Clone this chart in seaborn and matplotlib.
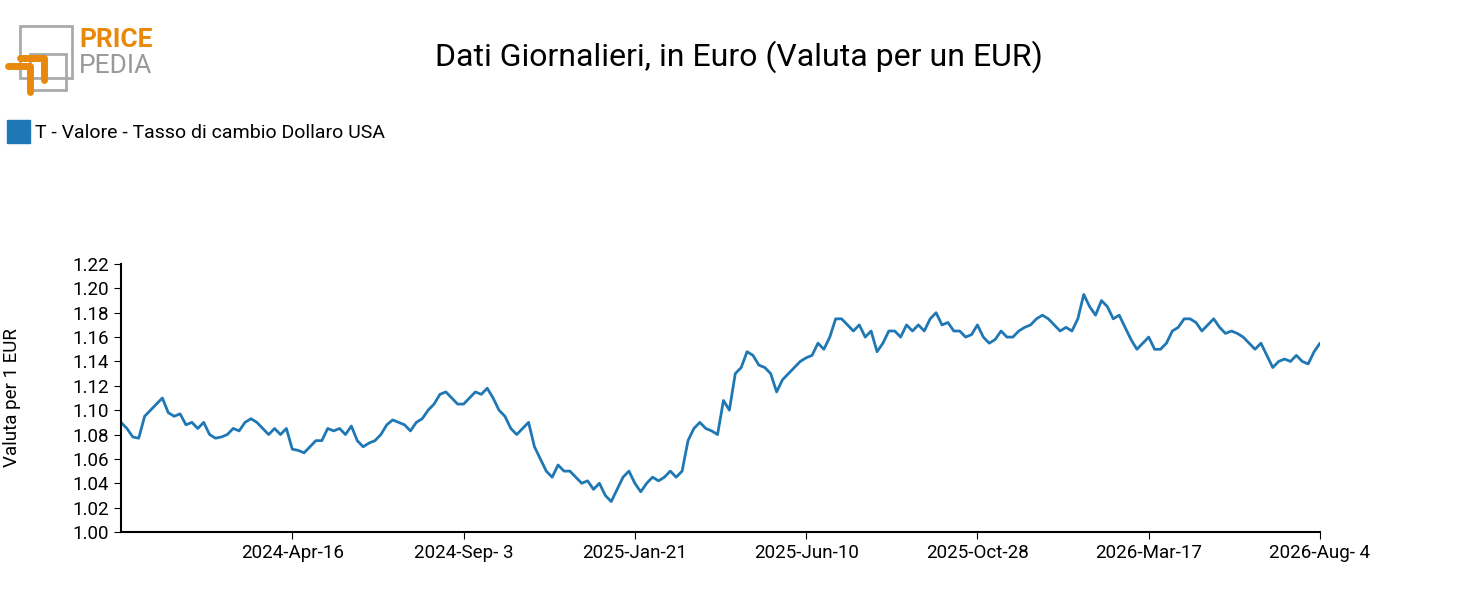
import matplotlib
matplotlib.use("Agg")
import matplotlib.pyplot as plt
from matplotlib.patches import Rectangle
from matplotlib.lines import Line2D
import seaborn as sns
import pandas as pd

values = [1.09,1.085,1.078,1.077,1.095,1.10,1.105,1.11,1.098,1.095,1.097,1.088,1.09,1.085,1.09,1.08,1.077,1.078,1.08,1.085,
1.083,1.09,1.093,1.09,1.085,1.08,1.085,1.08,1.085,1.068,1.067,1.065,1.07,1.075,1.075,1.085,1.083,1.085,1.08,1.087,
1.075,1.07,1.073,1.075,1.08,1.088,1.092,1.09,1.088,1.083,1.09,1.093,1.10,1.105,1.113,1.115,1.11,1.105,1.105,1.11,
1.115,1.113,1.118,1.11,1.10,1.095,1.085,1.08,1.085,1.09,1.07,1.06,1.05,1.045,1.055,1.05,1.05,1.045,1.04,1.042,
1.035,1.04,1.03,1.025,1.035,1.045,1.05,1.04,1.033,1.04,1.045,1.042,1.045,1.05,1.045,1.05,1.075,1.085,1.09,1.085,
1.083,1.08,1.108,1.10,1.13,1.135,1.148,1.145,1.137,1.135,1.13,1.115,1.125,1.13,1.135,1.14,1.143,1.145,1.155,1.15,
1.16,1.175,1.175,1.17,1.165,1.17,1.16,1.165,1.148,1.155,1.165,1.165,1.16,1.17,1.165,1.17,1.165,1.175,1.18,1.17,
1.172,1.165,1.165,1.16,1.162,1.17,1.16,1.155,1.158,1.165,1.16,1.16,1.165,1.168,1.17,1.175,1.178,1.175,1.17,1.165,
1.168,1.165,1.175,1.195,1.185,1.178,1.19,1.185,1.175,1.178,1.168,1.158,1.15,1.155,1.16,1.15,1.15,1.155,1.165,1.168,
1.175,1.175,1.172,1.165,1.17,1.175,1.168,1.163,1.165,1.163,1.16,1.155,1.15,1.155,1.145,1.135,1.14,1.142,1.14,1.145,
1.14,1.138,1.148,1.155]
start_date = "2023-11-28"
end_date = "2026-08-04"
tick_dates = ["2024-04-16","2024-09-03","2025-01-21","2025-06-10","2025-10-28","2026-03-17","2026-08-04"]
tick_labels = ["2024-Apr-16","2024-Sep- 3","2025-Jan-21","2025-Jun-10","2025-Oct-28","2026-Mar-17","2026-Aug- 4"]
y_ticks = [1.00,1.02,1.04,1.06,1.08,1.10,1.12,1.14,1.16,1.18,1.20,1.22]

df = pd.DataFrame({"date": pd.date_range(start_date, end_date, periods=len(values)), "val": values})

sns.set_style("white")
plt.rcParams['font.family'] = ['Roboto', 'DejaVu Sans']
plt.rcParams['text.color'] = 'black'
fig = plt.figure(figsize=(14.77, 6.15), dpi=100)
ax = fig.add_axes([121/1477, 83/615, (1320-121)/1477, (532-264)/615])
sns.lineplot(data=df, x="date", y="val", ax=ax, color="#1f77b4", linewidth=2)
ax.set_xlim(pd.Timestamp(start_date), pd.Timestamp(end_date))
ax.set_ylim(1.0, 1.22)
ax.set_yticks(y_ticks)
ax.set_yticklabels([f"{v:.2f}" for v in y_ticks], fontsize=13.5, color="black")
ax.set_xticks([pd.Timestamp(d) for d in tick_dates])
ax.set_xticklabels(tick_labels, fontsize=13.5, color="black")
ax.set_xlabel("")
ax.set_ylabel("Valuta per 1 EUR", fontsize=13.5, color="black")
ax.yaxis.set_label_coords(-0.083, 0.5)
for s in ["top", "right"]:
    ax.spines[s].set_visible(False)
for s in ["left", "bottom"]:
    ax.spines[s].set_color("black")
    ax.spines[s].set_linewidth(1.5)
ax.tick_params(axis="both", which="both", direction="out", length=5, color="black", left=True, bottom=True)

fig.text(0.5, 1-57/615, "Dati Giornalieri, in Euro (Valuta per un EUR)", ha="center", va="center", fontsize=23, color="black")
fig.patches.append(Rectangle((7/1477, 1-143/615), 23/1477, 23/615, transform=fig.transFigure, color="#1f77b4"))
fig.text(35/1477, 1-133/615, "T - Valore - Tasso di cambio Dollaro USA", va="center", fontsize=14, color="black")

# logo
fig.patches.append(Rectangle((20/1477, 1-78/615), 52/1477, 52/615, transform=fig.transFigure, fill=False, ec="#aaaaaa", lw=2))
fig.patches.append(Rectangle((30/1477, 1-90/615), 36/1477, 36/615, transform=fig.transFigure, fill=False, ec="#aaaaaa", lw=2))
fig.lines.append(Line2D([8/1477, 30/1477, 30/1477], [1-66/615, 1-66/615, 1-92/615], transform=fig.transFigure, color="#e8890c", lw=5))
fig.lines.append(Line2D([20/1477, 44/1477, 44/1477], [1-58/615, 1-58/615, 1-80/615], transform=fig.transFigure, color="#e8890c", lw=5))
fig.text(79/1477, 1-40/615, "PRICE", color="#e8890c", fontsize=19, fontweight="bold", va="center")
fig.text(79/1477, 1-66/615, "PEDIA", color="#999999", fontsize=19, va="center")

fig.savefig("out.png", dpi=100)
